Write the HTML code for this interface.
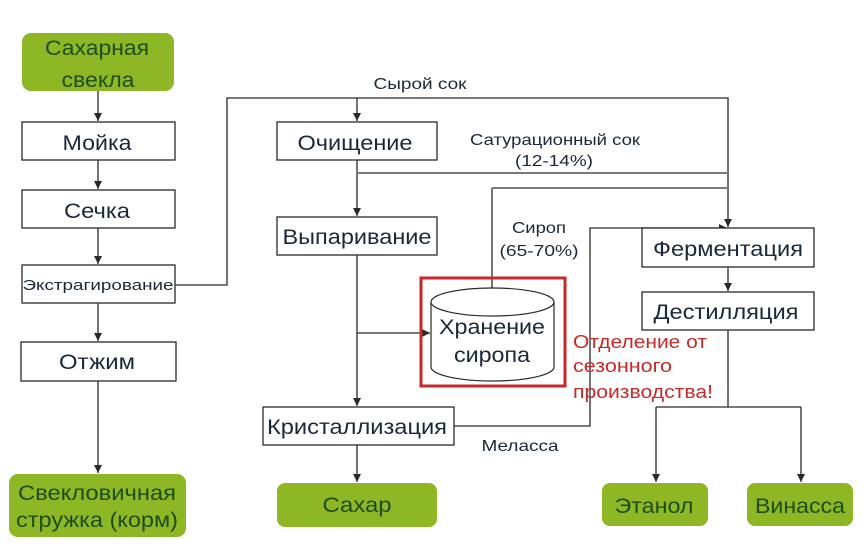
<!DOCTYPE html>
<html><head><meta charset="utf-8"><style>
html,body{margin:0;padding:0;background:#fff;}
svg{display:block;}
text{font-family:"Liberation Sans","DejaVu Sans",sans-serif;}
</style></head><body>
<svg width="866" height="544" viewBox="0 0 866 544" xmlns="http://www.w3.org/2000/svg">
<defs>
<marker id="a" markerWidth="10" markerHeight="10" refX="9" refY="5" orient="auto" markerUnits="userSpaceOnUse">
<path d="M1,1 L9,5 L1,9 Z" fill="#2a2a2a"/>
</marker>
</defs>
<rect width="866" height="544" fill="#fff"/>

<!-- connectors -->
<g stroke="#2a2a2a" stroke-width="1.3" fill="none">
<line x1="98" y1="91" x2="98" y2="121" marker-end="url(#a)"/>
<line x1="98" y1="160" x2="98" y2="189" marker-end="url(#a)"/>
<line x1="98" y1="228" x2="98" y2="264" marker-end="url(#a)"/>
<line x1="98" y1="303" x2="98" y2="341" marker-end="url(#a)"/>
<line x1="98" y1="381" x2="98" y2="473" marker-end="url(#a)"/>
<polyline points="175,285 227,285 227,98 728,98 728,227" marker-end="url(#a)"/>
<line x1="357" y1="98" x2="357" y2="121" marker-end="url(#a)"/>
<line x1="357" y1="160" x2="357" y2="216" marker-end="url(#a)"/>
<line x1="357" y1="255" x2="357" y2="406" marker-end="url(#a)"/>
<line x1="357" y1="333" x2="430" y2="333" marker-end="url(#a)"/>
<line x1="357" y1="445" x2="357" y2="482" marker-end="url(#a)"/>
<line x1="492" y1="188" x2="492" y2="288"/>
<polyline points="454,426 590,426 590,228 727,228" marker-end="url(#a)"/>
<line x1="728" y1="267" x2="728" y2="291" marker-end="url(#a)"/>
<polyline points="728,330 728,407"/>
<polyline points="656,407 801,407"/>
<line x1="656" y1="407" x2="656" y2="482" marker-end="url(#a)"/>
<line x1="801" y1="407" x2="801" y2="482" marker-end="url(#a)"/>
</g>
<g stroke="#7a7a7a" stroke-width="2" fill="none">
<line x1="357" y1="173" x2="728" y2="173"/>
<line x1="492" y1="188" x2="728" y2="188"/>
</g>

<!-- green boxes -->
<g fill="#8db724">
<rect x="22" y="33" width="152" height="58" rx="9"/>
<rect x="9" y="474" width="177" height="63" rx="9"/>
<rect x="277" y="483" width="160" height="44" rx="8"/>
<rect x="602" y="483" width="106" height="43" rx="8"/>
<rect x="747" y="483" width="106" height="43" rx="8"/>
</g>

<!-- white boxes -->
<g fill="#fff" stroke="#2a2a2a" stroke-width="1.3">
<rect x="22" y="122" width="153" height="38"/>
<rect x="22" y="190" width="153" height="38"/>
<rect x="22" y="265" width="153" height="38"/>
<rect x="21" y="342" width="155" height="39"/>
<rect x="277" y="122" width="160" height="38"/>
<rect x="277" y="217" width="160" height="38"/>
<rect x="263" y="407" width="191" height="38"/>
<rect x="642" y="228" width="172" height="39"/>
<rect x="642" y="292" width="172" height="38"/>
</g>

<!-- red box + cylinder -->
<rect x="421" y="278" width="144" height="108" fill="none" stroke="#c42a2a" stroke-width="3"/>
<g fill="#fff" stroke="#2a2a2a" stroke-width="1.2">
<path d="M431,302 L431,367 A61.5,14 0 0 0 554,367 L554,302"/>
<ellipse cx="492.5" cy="302" rx="61.5" ry="14"/>
</g>

<!-- text -->
<g fill="#1e4d1a" font-size="21" text-anchor="middle">
<text x="97" y="55" textLength="104" lengthAdjust="spacingAndGlyphs">Сахарная</text>
<text x="98" y="87" textLength="73" lengthAdjust="spacingAndGlyphs">свекла</text>
<text x="97" y="500" textLength="158" lengthAdjust="spacingAndGlyphs">Свекловичная</text>
<text x="97" y="527" textLength="162" lengthAdjust="spacingAndGlyphs">стружка (корм)</text>
<text x="357" y="512" textLength="69" lengthAdjust="spacingAndGlyphs">Сахар</text>
<text x="654" y="513" textLength="79" lengthAdjust="spacingAndGlyphs">Этанол</text>
<text x="800" y="513" textLength="90" lengthAdjust="spacingAndGlyphs">Винасса</text>
</g>
<g fill="#1a2838" font-size="21" text-anchor="middle">
<text x="97" y="150" textLength="69" lengthAdjust="spacingAndGlyphs">Мойка</text>
<text x="97" y="218" textLength="66" lengthAdjust="spacingAndGlyphs">Сечка</text>
<text x="97" y="369" textLength="76" lengthAdjust="spacingAndGlyphs">Отжим</text>
<text x="355" y="150" textLength="115" lengthAdjust="spacingAndGlyphs">Очищение</text>
<text x="357" y="244" textLength="149" lengthAdjust="spacingAndGlyphs">Выпаривание</text>
<text x="357" y="434" textLength="180" lengthAdjust="spacingAndGlyphs">Кристаллизация</text>
<text x="728" y="256" textLength="150" lengthAdjust="spacingAndGlyphs">Ферментация</text>
<text x="726" y="319" textLength="145" lengthAdjust="spacingAndGlyphs">Дестилляция</text>
<text x="492" y="334" textLength="106" lengthAdjust="spacingAndGlyphs">Хранение</text>
<text x="492" y="362" textLength="76" lengthAdjust="spacingAndGlyphs">сиропа</text>
</g>
<g fill="#1a2838" font-size="15" text-anchor="middle">
<text x="98" y="290" textLength="151" lengthAdjust="spacingAndGlyphs">Экстрагирование</text>
</g>
<g fill="#1a2838" font-size="16" text-anchor="middle">
<text x="420" y="89" textLength="93" lengthAdjust="spacingAndGlyphs">Сырой сок</text>
<text x="555" y="145" textLength="170" lengthAdjust="spacingAndGlyphs">Сатурационный сок</text>
<text x="554" y="166" textLength="78" lengthAdjust="spacingAndGlyphs">(12-14%)</text>
<text x="539" y="233" textLength="54" lengthAdjust="spacingAndGlyphs">Сироп</text>
<text x="539" y="256" textLength="79" lengthAdjust="spacingAndGlyphs">(65-70%)</text>
<text x="520" y="451" textLength="77" lengthAdjust="spacingAndGlyphs">Меласса</text>
</g>
<g fill="#c42a2a" font-size="18">
<text x="573" y="348" textLength="134" lengthAdjust="spacingAndGlyphs">Отделение от</text>
<text x="573" y="372" textLength="99" lengthAdjust="spacingAndGlyphs">сезонного</text>
<text x="573" y="398" textLength="140" lengthAdjust="spacingAndGlyphs">производства!</text>
</g>
</svg>
</body></html>
